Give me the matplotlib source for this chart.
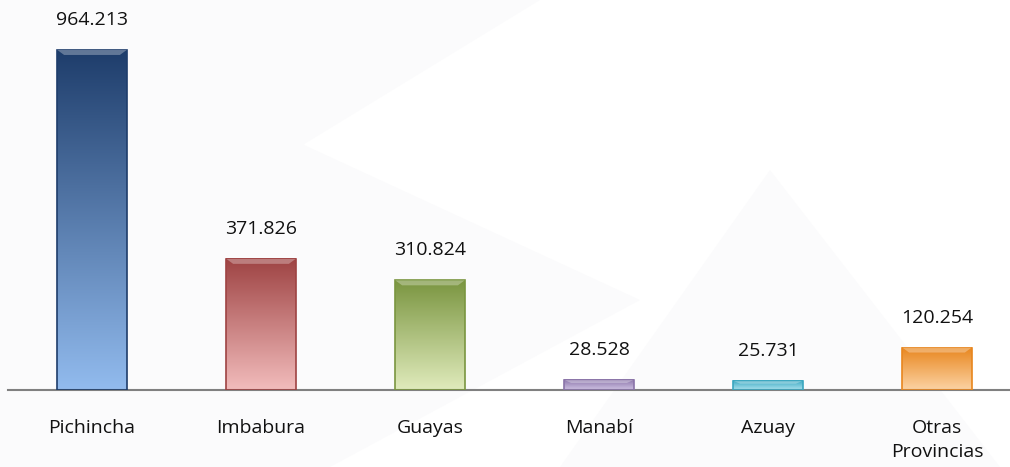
import numpy as np
import matplotlib.pyplot as plt
from matplotlib.colors import LinearSegmentedColormap
from matplotlib.patches import Polygon

categorias = ["Pichincha", "Imbabura", "Guayas", "Manabí", "Azuay", "Otras\nProvincias"]
valores = [964.213, 371.826, 310.824, 28.528, 25.731, 120.254]
etiquetas = ["964.213", "371.826", "310.824", "28.528", "25.731", "120.254"]

# colores (arriba oscuro -> abajo claro)
col_arriba = ["#1e3d6b", "#9e4343", "#7a9540", "#8a74a8", "#3aa6bf", "#e8861e"]
col_abajo = ["#92bbee", "#f2bcbc", "#e0ebbc", "#cfc2e4", "#a9e3f0", "#fcd3a4"]

plt.rcParams['font.family'] = ['Open Sans', 'DejaVu Sans']

fig = plt.figure(figsize=(10.10, 4.67), dpi=100)

# marca de agua de fondo (muy tenue)
bg = fig.add_axes([0, 0, 1, 1], zorder=-1)
bg.set_xlim(0, 1010)
bg.set_ylim(467, 0)
bg.axis('off')
for pts in [[(0, 0), (540, 0), (0, 330)],
            [(0, 330), (250, 120), (640, 300), (330, 467), (0, 467)],
            [(560, 467), (770, 170), (1000, 467)]]:
    bg.add_patch(Polygon(pts, closed=True, fc="#fbfbfc", ec="none"))

ax = fig.add_axes([7.5 / 1010, 77 / 467, 1014 / 1010, 352.6 / 467])
ax.set_xlim(-0.5, len(categorias) - 0.5)
ax.set_ylim(0, 1000)
ax.patch.set_alpha(0)

x = np.arange(len(categorias))
ancho = 0.41
barras = ax.bar(x, valores, width=ancho, color='none', edgecolor='none')

grad = np.linspace(0, 1, 256).reshape(-1, 1)
for i, b in enumerate(barras):
    x0 = b.get_x()
    h = b.get_height()
    cmap = LinearSegmentedColormap.from_list("g%d" % i, [col_abajo[i], col_arriba[i]])
    ax.imshow(grad, extent=[x0, x0 + ancho, 0, h], origin='lower', cmap=cmap,
              aspect='auto', zorder=2)
    # borde y bisel
    ax.add_patch(plt.Rectangle((x0, 0), ancho, h, fc='none', ec=col_arriba[i],
                               lw=1.2, zorder=3))
    bev = min(14, h * 0.3)
    ax.add_patch(Polygon([(x0, h), (x0 + ancho, h), (x0 + ancho - 0.04, h - bev),
                          (x0 + 0.04, h - bev)], closed=True, fc='white', alpha=0.3,
                         ec='none', zorder=3))
    ax.text(b.get_x() + ancho / 2, h + 85, etiquetas[i], ha='center', va='center',
            fontsize=14, color='#111111', clip_on=False)

ax.set_xticks(x)
ax.set_xticklabels(categorias, fontsize=14, color='#111111', linespacing=1.4, va='top')
ax.tick_params(axis='x', length=0, pad=21)
ax.set_yticks([])
for s in ['top', 'right', 'left']:
    ax.spines[s].set_visible(False)
ax.spines['bottom'].set_color('#808080')
ax.spines['bottom'].set_linewidth(1.5)

fig.savefig("out.png", dpi=100)
